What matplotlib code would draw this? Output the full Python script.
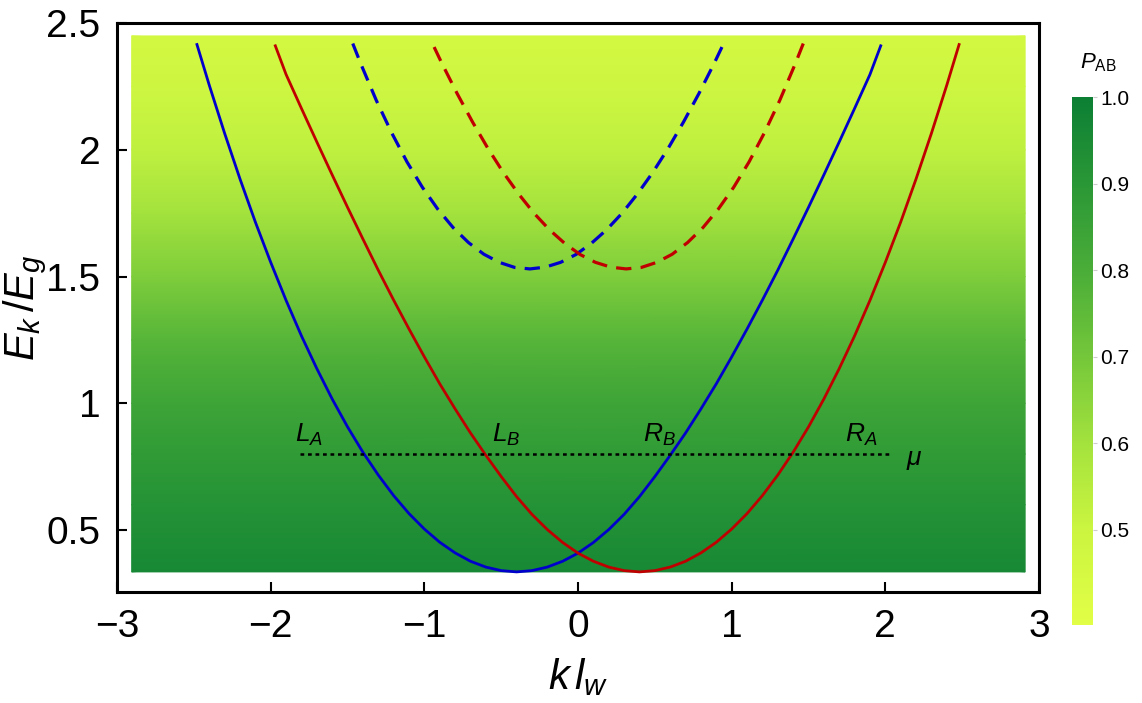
import matplotlib
matplotlib.use("Agg")
import matplotlib.pyplot as plt
import numpy as np
from matplotlib.colors import LinearSegmentedColormap

plt.rcParams['font.family'] = ['Liberation Sans', 'DejaVu Sans']
plt.rcParams['mathtext.fontset'] = 'custom'
plt.rcParams['mathtext.it'] = 'Liberation Sans:italic'
plt.rcParams['mathtext.rm'] = 'Liberation Sans'

# solid band (blue); red band is its mirror k -> -k
k_solid = [-2.48, -2.4, -2.3, -2.2, -2.1, -2.0, -1.9, -1.8, -1.7, -1.6, -1.5, -1.4, -1.3, -1.2,
           -1.1, -1.0, -0.9, -0.8, -0.7, -0.6, -0.5, -0.4, -0.3, -0.2, -0.1, 0.0, 0.1, 0.2,
           0.3, 0.4, 0.5, 0.6, 0.7, 0.8, 0.9, 1.0, 1.1, 1.2, 1.3, 1.4, 1.5, 1.6, 1.7, 1.8,
           1.9, 1.97]
E_solid = [2.415, 2.255, 2.065, 1.885, 1.715, 1.556, 1.406, 1.266, 1.137, 1.017, 0.907, 0.807,
           0.717, 0.636, 0.565, 0.504, 0.452, 0.410, 0.377, 0.354, 0.340, 0.335, 0.340, 0.354,
           0.377, 0.409, 0.451, 0.502, 0.562, 0.632, 0.711, 0.795, 0.883, 0.978, 1.077, 1.183,
           1.293, 1.407, 1.525, 1.648, 1.773, 1.901, 2.031, 2.163, 2.297, 2.41]

# dashed band (blue), red dashed is the mirror
k_dash = [-1.466, -1.413, -1.313, -1.213, -1.113, -1.013, -0.913, -0.813, -0.713, -0.613,
          -0.513, -0.413, -0.313, -0.213, -0.113, -0.013, 0.087, 0.187, 0.287, 0.387, 0.487,
          0.587, 0.687, 0.787, 0.887, 0.946]
E_dash = [2.419, 2.338, 2.195, 2.067, 1.952, 1.852, 1.766, 1.693, 1.634, 1.588, 1.556, 1.536,
          1.530, 1.537, 1.556, 1.587, 1.631, 1.685, 1.750, 1.826, 1.911, 2.006, 2.110, 2.222,
          2.342, 2.417]

# chemical potential line and Fermi point labels
mu = 0.80
mu_k = [-1.81, 2.035]
point_labels = ['$L_A$', '$L_B$', '$R_B$', '$R_A$']
point_k = [-1.75, -0.47, 0.53, 1.84]

# background P_AB versus energy
E_bg = [0.335, 0.6, 0.8, 1.0, 1.25, 1.5, 1.75, 2.0, 2.25, 2.449]
P_bg = [0.96, 0.92, 0.88, 0.84, 0.77, 0.68, 0.60, 0.53, 0.49, 0.46]
k_bg = [-2.905, 2.91]

cmap = LinearSegmentedColormap.from_list('pab', [
    (0.0, '#e2fe46'), (0.18, '#cbf540'), (0.344, '#a3e23d'), (0.508, '#74c73a'),
    (0.672, '#4aad38'), (0.836, '#2a9736'), (1.0, '#0c7f34')])
vmin, vmax = 0.39, 1.0

blue = '#0000cc'
red = '#c00000'

fig = plt.figure(figsize=(11.42, 7.03), dpi=100)
ax = fig.add_axes([0.1025, 0.158, 0.8073, 0.8093])

P2 = np.tile(np.array(P_bg)[:, None], (1, 2))
mesh = ax.pcolormesh(k_bg, E_bg, P2, cmap=cmap, vmin=vmin, vmax=vmax, shading='gouraud')

ks = np.array(k_solid)
kd = np.array(k_dash)
ax.plot(ks, E_solid, color=blue, lw=2.0)
ax.plot(-ks, E_solid, color=red, lw=2.0)
ax.plot(kd, E_dash, color=blue, lw=2.3, ls=(0, (4.8, 2.9)))
ax.plot(-kd, E_dash, color=red, lw=2.3, ls=(0, (4.8, 2.9)))

ax.plot(mu_k, [mu, mu], color='black', lw=1.8, ls=(0, (1.5, 1.5)))
for lab, kk in zip(point_labels, point_k):
    ax.text(kk, 0.875, lab, fontsize=19, ha='center', va='center')
ax.text(2.19, 0.776, r'$\mu$', fontsize=19, ha='center', va='center')

ax.set_xlim(-3, 3)
ax.set_ylim(0.256, 2.5)
ax.set_xticks([-3, -2, -1, 0, 1, 2, 3])
ax.set_xticklabels(['\u22123', '\u22122', '\u22121', '0', '1', '2', '3'])
ax.set_yticks([0.5, 1, 1.5, 2, 2.5])
ax.set_yticklabels(['0.5', '1', '1.5', '2', '2.5'])
ax.tick_params(direction='in', length=7, width=1.5, labelsize=28, pad=12)
for s in ax.spines.values():
    s.set_linewidth(2.2)

ax.set_xlabel(r'$k\,l_w$', fontsize=30, labelpad=8)
ax.set_ylabel(r'$E_k\,/E_g$', fontsize=30, labelpad=-2)

cax = fig.add_axes([0.9387, 0.111, 0.0184, 0.751])
cb = fig.colorbar(mesh, cax=cax)
cb.outline.set_visible(False)
cb.set_ticks([0.5, 0.6, 0.7, 0.8, 0.9, 1.0])
cb.ax.tick_params(labelsize=15, length=3, width=0.8, color='#cccccc', direction='out', pad=2)
fig.text(0.962, 0.911, r'$P_{\mathrm{AB}}$', fontsize=16, ha='center', va='center')

fig.savefig('out.png', dpi=100)
